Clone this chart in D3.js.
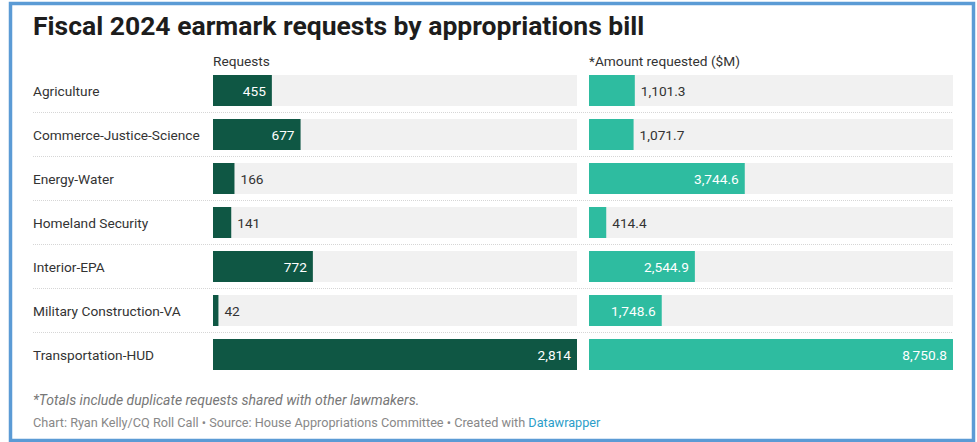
<!DOCTYPE html>
<html>
<head>
<meta charset="utf-8">
<script src="https://cdn.jsdelivr.net/npm/d3@7"></script>
<style>
  body { margin: 0; background: #fff; font-family: Roboto, "Noto Sans", sans-serif; }
</style>
</head>
<body>
<script>
var width = 977;
var height = 442;

var bills = ["Agriculture", "Commerce-Justice-Science", "Energy-Water", "Homeland Security",
  "Interior-EPA", "Military Construction-VA", "Transportation-HUD"];
var requests = [455, 677, 166, 141, 772, 42, 2814];
var amounts = [1101.3, 1071.7, 3744.6, 414.4, 2544.9, 1748.6, 8750.8];
var columnTitles = ["Requests", "*Amount requested ($M)"];

var rowTop = 75;
var rowStep = 44;
var barHeight = 31;
var fs = 13.7;

var svg = d3.select("body").append("svg")
  .attr("width", width)
  .attr("height", height);

// frame
svg.append("rect")
  .attr("x", 10.5).attr("y", 3.5)
  .attr("width", 963).attr("height", 437)
  .attr("fill", "none")
  .attr("stroke", "#5b9bd5")
  .attr("stroke-width", 3.5);

svg.append("text")
  .attr("x", 33).attr("y", 35)
  .attr("font-size", 26.5).attr("font-weight", 700)
  .attr("fill", "#1d1d1d")
  .text("Fiscal 2024 earmark requests by appropriations bill");

var y = d3.scaleBand()
  .domain(bills)
  .range([rowTop, rowTop + rowStep * bills.length])
  .paddingInner(0);

// separators between rows
svg.selectAll(".sep")
  .data(bills.slice(1))
  .enter()
  .append("line")
  .attr("x1", 33).attr("x2", 953)
  .attr("y1", function(d) { return y(d) - 6.5; })
  .attr("y2", function(d) { return y(d) - 6.5; })
  .attr("stroke", "#d6d6d6")
  .attr("stroke-dasharray", "1,1");

svg.selectAll(".label")
  .data(bills)
  .enter()
  .append("text")
  .attr("x", 33)
  .attr("y", function(d) { return y(d) + barHeight / 2 + 5; })
  .attr("font-size", fs)
  .attr("fill", "#333")
  .text(function(d) { return d; });

function drawColumn(values, x0, x1, color, title, fmt) {
  var x = d3.scaleLinear()
    .domain([0, d3.max(values)])
    .range([x0, x1]);

  svg.append("text")
    .attr("x", x0).attr("y", 66)
    .attr("font-size", fs).attr("fill", "#333")
    .text(title);

  var g = svg.append("g");
  var rows = g.selectAll("g")
    .data(values)
    .enter()
    .append("g")
    .attr("transform", function(d, i) { return "translate(0," + y(bills[i]) + ")"; });

  rows.append("rect")
    .attr("x", x0).attr("y", 0)
    .attr("width", x1 - x0).attr("height", barHeight)
    .attr("fill", "#f1f1f1");

  rows.append("rect")
    .attr("x", x0).attr("y", 0)
    .attr("width", function(d) { return x(d) - x0; })
    .attr("height", barHeight)
    .attr("fill", color);

  rows.append("text")
    .attr("y", barHeight / 2 + 5)
    .attr("font-size", fs)
    .text(function(d) { return fmt(d); })
    .each(function(d) {
      var t = d3.select(this);
      var w = this.getComputedTextLength();
      var bw = x(d) - x0;
      if (bw > w + 14) {
        t.attr("x", x(d) - 6).attr("text-anchor", "end").attr("fill", "#fff");
      } else {
        t.attr("x", x(d) + 6).attr("text-anchor", "start").attr("fill", "#333");
      }
    });
}

drawColumn(requests, 213, 577, "#0f5744", columnTitles[0], d3.format(","));
drawColumn(amounts, 589, 953, "#2ebca0", columnTitles[1], d3.format(",.1f"));

svg.append("text")
  .attr("x", 33).attr("y", 405)
  .attr("font-size", 14).attr("font-style", "italic")
  .attr("fill", "#777")
  .text("*Totals include duplicate requests shared with other lawmakers.");

var credit = svg.append("text")
  .attr("x", 33).attr("y", 427)
  .attr("font-size", 12.7)
  .attr("fill", "#888");
credit.append("tspan").text("Chart: Ryan Kelly/CQ Roll Call • Source: House Appropriations Committee • Created with ");
credit.append("tspan").attr("fill", "#2b9ec9").text("Datawrapper");
</script>
</body>
</html>
